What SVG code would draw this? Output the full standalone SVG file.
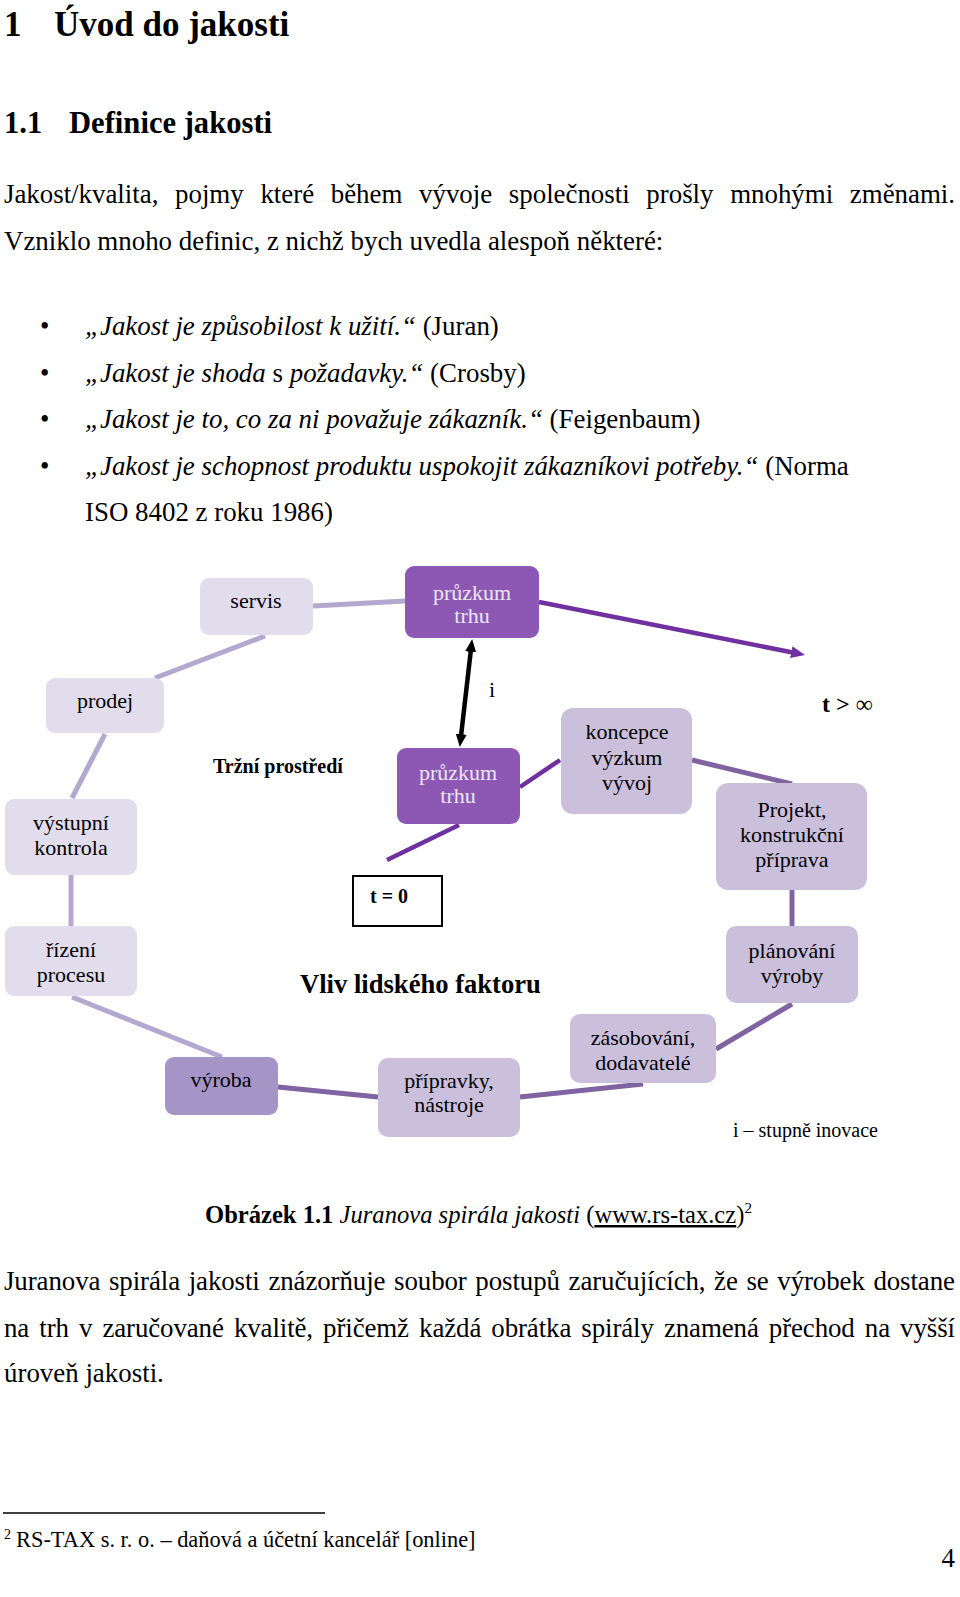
<svg xmlns="http://www.w3.org/2000/svg" width="960" height="1597" viewBox="0 0 960 1597">
<style>
text{font-family:"Liberation Serif","Times New Roman",serif;fill:#000}
.h1{font-size:35px;font-weight:bold}
.h2{font-size:30.6px;font-weight:bold}
.b{font-size:26.9px}
.it{font-style:italic}
.bd{font-weight:bold}
.nt{font-size:22px;text-anchor:middle}
.nw{font-size:22px;text-anchor:middle;fill:#ede6f4}
.lt{fill:#e1ddec}
.dk{fill:#8c58b4}
.md{fill:#cbc0dc}
.vy{fill:#a594c6}
.cl{stroke:#b3a8cf;stroke-width:5;fill:none}
.cm{stroke:#8064a2;stroke-width:5;fill:none}
.cd{stroke:#7030a0;stroke-width:4.5;fill:none}
</style>
<defs>
<marker id="ap" viewBox="0 0 14 12" refX="4" refY="6" markerWidth="14" markerHeight="12" markerUnits="userSpaceOnUse" orient="auto"><path d="M0,0 L14,6 L0,12 z" fill="#7030a0"/></marker>
<marker id="ab" viewBox="0 0 13 11" refX="3" refY="5.5" markerWidth="13" markerHeight="11" markerUnits="userSpaceOnUse" orient="auto-start-reverse"><path d="M0,0 L13,5.5 L0,11 z" fill="#000"/></marker>
</defs>
<rect width="960" height="1597" fill="#fff"/>

<g id="page-text">
<text class="h1" x="4" y="36">1</text>
<text class="h1" x="54" y="36">Úvod do jakosti</text>
<text class="h2" x="4" y="133">1.1</text>
<text class="h2" x="69" y="133">Definice jakosti</text>
<text class="b" x="4" y="203" word-spacing="10" textLength="951" lengthAdjust="spacing">Jakost/kvalita, pojmy které během vývoje společnosti prošly mnohými změnami.</text>
<text class="b" x="4" y="249.5">Vzniklo mnoho definic, z nichž bych uvedla alespoň některé:</text>
<text class="b" x="40" y="335">•</text>
<text class="b" x="85" y="335"><tspan class="it">„Jakost je způsobilost k užití.“</tspan> (Juran)</text>
<text class="b" x="40" y="382">•</text>
<text class="b" x="85" y="382"><tspan class="it">„Jakost je shoda</tspan> s <tspan class="it">požadavky.“</tspan> (Crosby)</text>
<text class="b" x="40" y="428">•</text>
<text class="b" x="85" y="428"><tspan class="it">„Jakost je to, co za ni považuje zákazník.“</tspan> (Feigenbaum)</text>
<text class="b" x="40" y="474.5">•</text>
<text class="b" x="85" y="474.5"><tspan class="it">„Jakost je schopnost produktu uspokojit zákazníkovi potřeby.“</tspan> (Norma</text>
<text class="b" x="85" y="521">ISO 8402 z roku 1986)</text>

<text x="205" y="1223" font-size="24.6"><tspan class="bd">Obrázek 1.1</tspan> <tspan class="it">Juranova spirála jakosti</tspan> (<tspan text-decoration="underline">www.rs-tax.cz</tspan>)<tspan font-size="15" dy="-10">2</tspan></text>
<text class="b" x="4" y="1290" word-spacing="2" textLength="951" lengthAdjust="spacing">Juranova spirála jakosti znázorňuje soubor postupů zaručujících, že se výrobek dostane</text>
<text class="b" x="4" y="1336.5" word-spacing="3.5" textLength="951" lengthAdjust="spacing">na trh v zaručované kvalitě, přičemž každá obrátka spirály znamená přechod na vyšší</text>
<text class="b" x="4" y="1382">úroveň jakosti.</text>
<line x1="3" y1="1513" x2="325" y2="1513" stroke="#000" stroke-width="1.5"/>
<text x="4" y="1539" font-size="14">2</text>
<text x="16" y="1547" font-size="22.4">RS-TAX s. r. o. – daňová a účetní kancelář [online]</text>
<text class="b" x="955" y="1567" text-anchor="end">4</text>
</g>

<g id="connectors">
<line class="cl" x1="313" y1="606" x2="405" y2="601"/>
<line class="cl" x1="265" y1="636" x2="155" y2="678"/>
<line class="cl" x1="105" y1="734" x2="72" y2="798"/>
<line class="cl" x1="71" y1="875" x2="71" y2="926"/>
<line class="cl" x1="72" y1="997" x2="222" y2="1057"/>
<line class="cm" x1="278" y1="1087" x2="378" y2="1097"/>
<line class="cm" x1="520" y1="1097" x2="643" y2="1084"/>
<line class="cm" x1="716" y1="1049" x2="792" y2="1004"/>
<line class="cm" x1="792" y1="926" x2="792" y2="890"/>
<line class="cm" x1="792" y1="784" x2="692" y2="760"/>
<line class="cd" x1="560" y1="760" x2="520" y2="787"/>
<line class="cd" x1="459" y1="825" x2="387" y2="860"/>
<line class="cd" x1="539" y1="602" x2="795.2" y2="653" marker-end="url(#ap)"/>
<line x1="471" y1="648.9" x2="460.9" y2="737.1" stroke="#000" stroke-width="4.5" marker-start="url(#ab)" marker-end="url(#ab)"/>
</g>

<g id="servis"><rect class="lt" x="200" y="578" width="113" height="57" rx="9"/><text class="nt" x="256" y="608">servis</text></g>
<g id="pruzkum-top"><rect class="dk" x="405" y="566" width="134" height="72" rx="9"/><text class="nw" x="472" y="600">průzkum</text><text class="nw" x="472" y="623">trhu</text></g>
<g id="prodej"><rect class="lt" x="46" y="678" width="118" height="55" rx="9"/><text class="nt" x="105" y="708">prodej</text></g>
<g id="vystupni"><rect class="lt" x="5" y="799" width="132" height="76" rx="9"/><text class="nt" x="71" y="830">výstupní</text><text class="nt" x="71" y="855">kontrola</text></g>
<g id="rizeni"><rect class="lt" x="5" y="926" width="132" height="70" rx="9"/><text class="nt" x="71" y="957">řízení</text><text class="nt" x="71" y="982">procesu</text></g>
<g id="vyroba"><rect class="vy" x="165" y="1057" width="113" height="58" rx="9"/><text class="nt" x="221" y="1087">výroba</text></g>
<g id="pripravky"><rect class="md" x="378" y="1058" width="142" height="79" rx="10"/><text class="nt" x="449" y="1088">přípravky,</text><text class="nt" x="449" y="1112">nástroje</text></g>
<g id="zasobovani"><rect class="md" x="570" y="1014" width="146" height="69" rx="10"/><text class="nt" x="643" y="1045">zásobování,</text><text class="nt" x="643" y="1070">dodavatelé</text></g>
<g id="planovani"><rect class="md" x="726" y="926" width="132" height="77" rx="10"/><text class="nt" x="792" y="958">plánování</text><text class="nt" x="792" y="983">výroby</text></g>
<g id="projekt"><rect class="md" x="716" y="783" width="151" height="107" rx="12"/><text class="nt" x="792" y="817">Projekt,</text><text class="nt" x="792" y="842">konstrukční</text><text class="nt" x="792" y="867">příprava</text></g>
<g id="koncepce"><rect class="md" x="561" y="708" width="131" height="106" rx="12"/><text class="nt" x="627" y="739">koncepce</text><text class="nt" x="627" y="765">výzkum</text><text class="nt" x="627" y="790">vývoj</text></g>
<g id="pruzkum-low"><rect class="dk" x="397" y="748" width="123" height="76" rx="9"/><text class="nw" x="458" y="780">průzkum</text><text class="nw" x="458" y="803">trhu</text></g>
<g id="t0"><rect x="353" y="876" width="89" height="50" fill="none" stroke="#000" stroke-width="2"/><text x="370" y="903" font-size="20" font-weight="bold">t = 0</text></g>

<g id="labels">
<text x="213" y="773" font-size="20" font-weight="bold">Tržní prostředí</text>
<text x="300" y="993" font-size="26.6" font-weight="bold">Vliv lidského faktoru</text>
<text x="492" y="697" font-size="22" text-anchor="middle">i</text>
<text x="822" y="712" font-size="24"><tspan font-weight="bold">t &gt;</tspan> ∞</text>
<text x="733" y="1137" font-size="20">i – stupně inovace</text>
</g>
</svg>
